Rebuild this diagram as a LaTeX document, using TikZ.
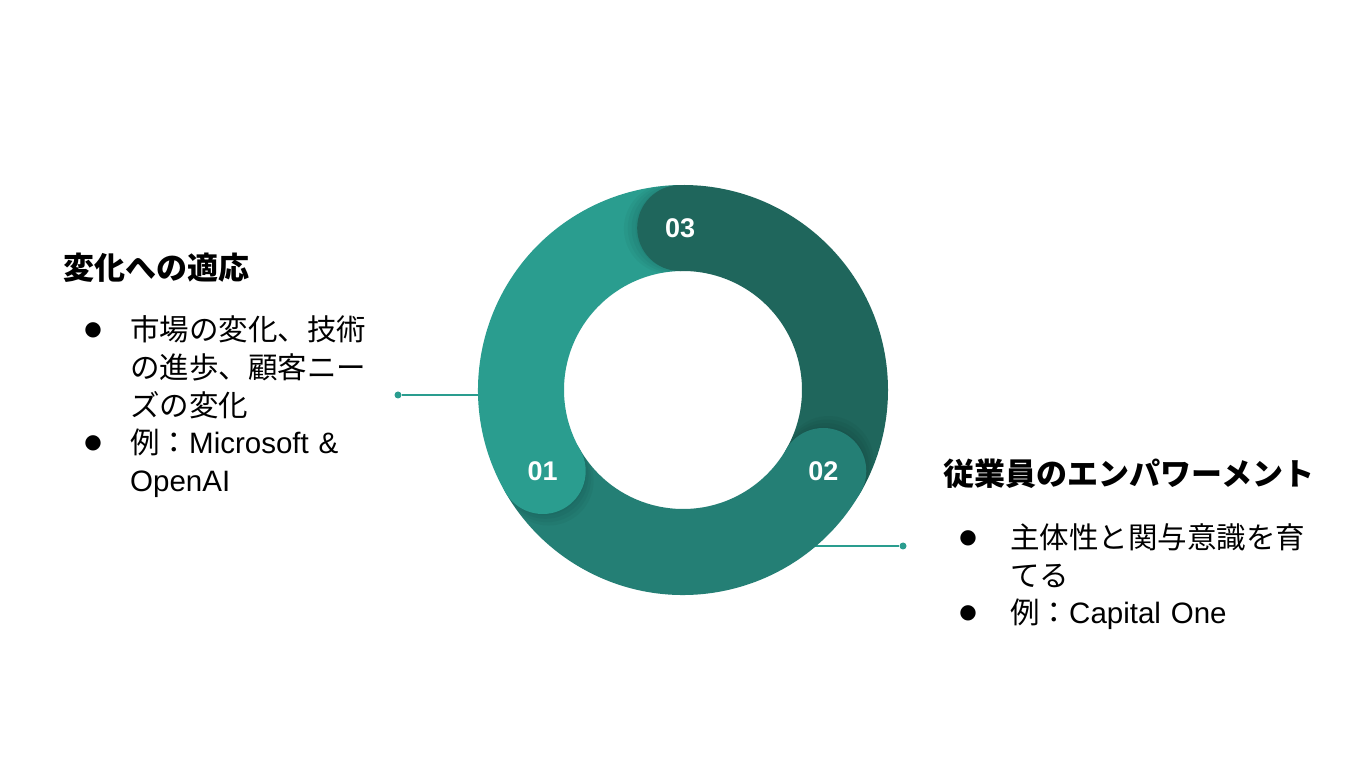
\documentclass[tikz,border=0pt]{standalone}
\usepackage{fontspec}
\setmainfont{Liberation Sans}
\newfontfamily\jpfont{Noto Sans CJK JP}
\newfontfamily\dotfont{DejaVu Sans}
\usetikzlibrary{positioning}
\definecolor{ringA}{HTML}{2A9D8F}
\definecolor{ringB}{HTML}{247F75}
\definecolor{ringC}{HTML}{1F665C}
\newcommand{\bodyfont}{\jpfont\fontsize{29.5}{37.7}\selectfont}
\newcommand{\lat}[1]{{\rmfamily #1}}

\begin{document}
\begin{tikzpicture}[x=1pt,y=1pt,every node/.style={inner sep=0pt},
  ttl/.style={font=\jpfont\bfseries\fontsize{31}{36}\selectfont,anchor=west},
  item/.style={font=\bodyfont,text width=330pt,align=left,anchor=base west},
  bul/.style={font=\dotfont\fontsize{20}{20}\selectfont},
  num/.style={font=\bfseries\fontsize{27}{27}\selectfont,text=white},
  link/.style={ringA,line width=1.5pt},
  dot/.style={circle,fill=ringA,minimum size=7pt}]
\fill[white] (0,0) rectangle (1365,768);
\useasboundingbox (0,0) rectangle (1365,768);
% connectors
\node[dot] (d01) at (398,373) {};
\coordinate (e01) at (480,373);
\node[dot] (d02) at (903,222) {};
\coordinate (e02) at (814,222);
\draw[link] (d01) -- (e01);
\draw[link] (e02) -- (d02);
% ring
\begin{scope}[shift={(683,378)}]
\foreach \a/\b/\c in {210/91/ringA, 91/-30/ringC, -30/-150/ringB}
  \fill[\c] (\a:205) arc[start angle=\a,end angle=\b,radius=205] -- (\b:119) arc[start angle=\b,end angle=\a,radius=119] -- cycle;
\begin{scope}[even odd rule]
\clip (0,0) circle[radius=205] (0,0) circle[radius=119];
\foreach \a in {210,91,-30}
  \foreach \s in {1,2,3,4}
    \fill[black,opacity=.035] (\a+\s:162) circle[radius=41+\s];
\end{scope}
\foreach \a/\c/\n in {210/ringA/01, 91/ringC/03, -30/ringB/02}
  \fill[\c] (\a:162) circle[radius=43] node[num] (n\n) {\n};
\end{scope}
% left text
\node[ttl] (t1) at (63,500) {変化への適応};
\node[bul] (b11) at (93,438) {●};
\node[item] (i11) at (130,427) {市場の変化、技術\\の進歩、顧客ニー\\ズの変化};
\node[bul] (b12) at (93,325) {●};
\node[item] (i12) at (130,314) {例：\lat{Microsoft \&}\\\lat{OpenAI}};
% right text
\node[ttl] (t2) at (943,294) {従業員のエンパワーメント};
\node[bul] (b21) at (968,230) {●};
\node[item] (i21) at (1010,219) {主体性と関与意識を育\\てる};
\node[bul] (b22) at (968,155) {●};
\node[item] (i22) at (1010,144) {例：\lat{Capital One}};
\end{tikzpicture}
\end{document}
